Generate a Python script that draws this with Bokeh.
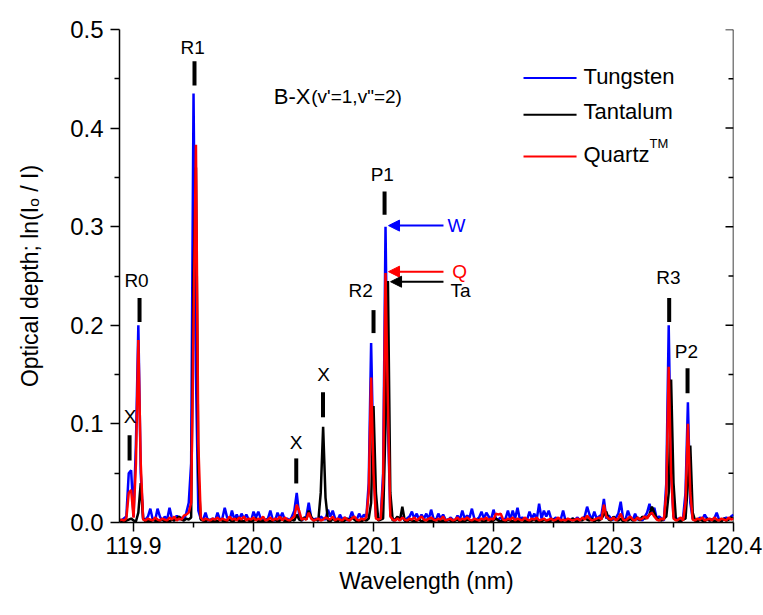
import numpy as np
from bokeh.plotting import figure
from bokeh.models import (Range1d, FixedTicker, NumeralTickFormatter,
                          Arrow, NormalHead, ColumnDataSource)
from bokeh.embed import file_html
from bokeh.resources import INLINE
from bokeh.core.properties import value

# ---------------- data ----------------
wl_start = 119.888
wl_step = 0.002
n_points = 257
wavelength = np.round(wl_start + wl_step * np.arange(n_points), 4)

tungsten = [
    .003, .002, .004, .006, .050, .053, .006, .080, .200, .050,
    .004, .003, .006, .014, .003, .002, .014, .006, .002, .006,
    .003, .015, .004, .002, .007, .003, .005, .002, .010, .020,
    .060, .435, .150, .012, .004, .003, .010, .002, .003, .004,
    .002, .010, .003, .004, .015, .005, .002, .012, .003, .008,
    .003, .009, .004, .008, .003, .002, .011, .005, .011, .004,
    .003, .002, .004, .012, .003, .002, .010, .004, .010, .003,
    .004, .002, .006, .012, .030, .008, .002, .004, .006, .020,
    .005, .003, .004, .002, .006, .004, .003, .013, .006, .012,
    .004, .002, .008, .003, .005, .002, .004, .011, .004, .003,
    .009, .004, .008, .005, .040, .182, .060, .006, .004, .005,
    .050, .300, .100, .008, .004, .002, .005, .003, .006, .002,
    .004, .006, .011, .004, .009, .003, .008, .004, .009, .003,
    .013, .004, .002, .009, .004, .008, .003, .002, .005, .003,
    .002, .007, .003, .012, .004, .007, .005, .014, .004, .003,
    .005, .011, .004, .010, .006, .003, .013, .004, .003, .005,
    .002, .004, .012, .003, .012, .004, .015, .003, .005, .004,
    .003, .011, .004, .009, .003, .019, .004, .012, .006, .012,
    .004, .003, .005, .002, .003, .012, .002, .003, .002, .004,
    .003, .005, .002, .004, .006, .016, .008, .003, .011, .004,
    .006, .008, .024, .004, .007, .004, .003, .005, .009, .021,
    .004, .003, .012, .005, .002, .009, .003, .004, .002, .006,
    .010, .019, .008, .015, .004, .006, .004, .002, .040, .200,
    .050, .006, .003, .004, .002, .005, .030, .122, .020, .004,
    .003, .002, .005, .003, .008, .004, .002, .003, .004, .010,
    .003, .002, .004, .005, .003, .006, .008,
]

tantalum = [
    .001, .002, .001, .002, .003, .004, .002, .001, .010, .040,
    .004, .001, .002, .001, .003, .002, .001, .002, .003, .001,
    .002, .001, .003, .002, .004, .006, .003, .002, .004, .003,
    .005, .250, .360, .050, .003, .002, .001, .003, .002, .001,
    .002, .001, .003, .002, .001, .002, .003, .001, .002, .004,
    .001, .002, .001, .003, .002, .001, .002, .004, .001, .002,
    .001, .003, .002, .001, .002, .003, .001, .002, .004, .001,
    .002, .001, .003, .002, .008, .003, .002, .005, .003, .012,
    .006, .002, .003, .002, .030, .097, .025, .002, .001, .004,
    .002, .001, .003, .001, .002, .004, .002, .005, .003, .001,
    .002, .001, .003, .002, .004, .020, .118, .030, .002, .003,
    .004, .100, .245, .030, .002, .003, .006, .002, .016, .002,
    .001, .003, .002, .001, .002, .003, .001, .002, .003, .001,
    .002, .001, .003, .002, .001, .002, .001, .003, .002, .001,
    .002, .003, .001, .002, .001, .003, .002, .001, .002, .001,
    .003, .002, .001, .002, .003, .001, .002, .004, .002, .001,
    .002, .001, .003, .002, .001, .002, .001, .002, .003, .001,
    .002, .001, .002, .003, .001, .002, .001, .003, .002, .001,
    .002, .003, .001, .002, .001, .002, .003, .001, .002, .004,
    .002, .001, .003, .002, .005, .003, .002, .004, .001, .003,
    .002, .004, .008, .011, .003, .002, .006, .003, .002, .004,
    .001, .003, .002, .004, .002, .003, .005, .002, .006, .004,
    .005, .008, .016, .010, .004, .003, .002, .004, .006, .030,
    .145, .040, .003, .002, .001, .003, .004, .040, .078, .010,
    .002, .001, .003, .002, .001, .004, .002, .003, .001, .002,
    .003, .001, .004, .002, .003, .005, .004,
]

quartz = [
    .002, .003, .002, .004, .030, .033, .005, .060, .185, .060,
    .003, .002, .004, .003, .002, .005, .003, .002, .004, .003,
    .002, .005, .003, .006, .002, .004, .003, .007, .008, .010,
    .020, .200, .383, .080, .005, .002, .004, .003, .002, .004,
    .003, .005, .002, .004, .003, .002, .006, .003, .004, .002,
    .005, .003, .006, .002, .004, .003, .005, .002, .004, .003,
    .006, .002, .003, .005, .002, .004, .003, .006, .002, .005,
    .003, .002, .004, .006, .018, .012, .003, .004, .003, .010,
    .004, .002, .003, .004, .002, .003, .005, .004, .003, .006,
    .002, .004, .003, .002, .005, .003, .002, .004, .006, .003,
    .002, .004, .003, .005, .030, .147, .050, .004, .003, .004,
    .040, .253, .120, .006, .003, .002, .004, .002, .005, .003,
    .002, .004, .003, .005, .002, .004, .006, .003, .002, .004,
    .005, .003, .002, .004, .003, .006, .002, .003, .004, .002,
    .003, .005, .002, .004, .003, .005, .003, .002, .004, .003,
    .002, .004, .003, .005, .002, .004, .003, .009, .008, .009,
    .003, .002, .004, .003, .005, .002, .004, .003, .002, .005,
    .003, .002, .004, .003, .005, .002, .003, .004, .002, .003,
    .004, .002, .003, .005, .002, .003, .002, .004, .003, .002,
    .003, .004, .002, .005, .003, .007, .004, .002, .003, .004,
    .005, .003, .018, .006, .004, .003, .005, .002, .004, .009,
    .003, .002, .004, .006, .003, .002, .005, .003, .004, .006,
    .004, .008, .010, .006, .003, .002, .004, .003, .030, .158,
    .050, .004, .002, .003, .005, .002, .020, .100, .030, .003,
    .002, .004, .003, .005, .002, .003, .004, .002, .005, .003,
    .002, .004, .003, .002, .005, .003, .004,
]

x_ticks = [119.9, 120.0, 120.1, 120.2, 120.3, 120.4]
x_minor = [119.95, 120.05, 120.15, 120.25, 120.35]
y_ticks = [0.0, 0.1, 0.2, 0.3, 0.4, 0.5]
y_minor = [0.05, 0.15, 0.25, 0.35, 0.45]

# line identification marks
mark_text = ["X", "R0", "R1", "X", "X", "R2", "P1", "R3", "P2"]
mark_text_x = [119.8971, 119.9025, 119.9492, 120.0354, 120.0583, 120.0892, 120.1073, 120.3458, 120.3608]
mark_text_y = [0.1077, 0.2459, 0.4817, 0.0813, 0.1504, 0.2358, 0.3526, 0.2485, 0.1738]
bar_x = [119.8967, 119.9050, 119.9508, 120.0356, 120.0579, 120.1000, 120.1092, 120.3464, 120.3617]
bar_y0 = [0.0630, 0.2033, 0.4431, 0.0396, 0.1067, 0.1921, 0.3120, 0.2033, 0.1311]
bar_y1 = [0.0884, 0.2276, 0.4678, 0.0650, 0.1321, 0.2154, 0.3357, 0.2276, 0.1565]

FONT = "Liberation Sans"
BLUE = "#0000FF"
RED = "#FF0000"
X0, X1 = 119.8883, 120.4

p = figure(width=763, height=615, output_backend="svg", toolbar_location=None,
           x_range=Range1d(X0, X1), y_range=Range1d(0.0, 0.5),
           min_border_left=119, min_border_right=30, min_border_top=29, min_border_bottom=93)
p.outline_line_color = None
p.xgrid.visible = False
p.ygrid.visible = False
p.background_fill_color = "white"
p.border_fill_color = "white"

xa = p.xaxis[0]
xa.ticker = FixedTicker(ticks=x_ticks, minor_ticks=x_minor)
xa.formatter = NumeralTickFormatter(format="0.0")
ya = p.yaxis[0]
ya.ticker = FixedTicker(ticks=y_ticks, minor_ticks=y_minor)
ya.formatter = NumeralTickFormatter(format="0.0")
for ax in (xa, ya):
    ax.axis_line_width = 1.5
    ax.axis_line_color = "black"
    ax.major_tick_line_width = 1.5
    ax.minor_tick_line_width = 1.5
    ax.major_tick_in = 0
    ax.major_tick_out = 9
    ax.minor_tick_in = 0
    ax.minor_tick_out = 5
    ax.major_label_text_font = FONT
    ax.major_label_text_color = "black"
    ax.axis_label_text_font = FONT
    ax.axis_label_text_font_size = "23px"
    ax.axis_label_text_font_style = "normal"
    ax.axis_label_text_color = "black"
xa.major_label_text_font_size = "23px"
ya.major_label_text_font_size = "24px"
xa.major_label_standoff = 5
xa.axis_label = "Wavelength (nm)"
xa.axis_label_standoff = 11
ya.major_label_standoff = 7
ya.axis_label = "Optical depth; ln(I\u2092 / I)"
ya.axis_label_standoff = 24

# right frame line with inward ticks (no labels)
p.segment(x0=[X1], y0=[0.0], x1=[X1], y1=[0.5], line_color="black", line_width=1.5)
maj_len = 8 * (X1 - X0) / 614.0
min_len = 5 * (X1 - X0) / 614.0
p.segment(x0=[X1] * len(y_ticks), y0=y_ticks, x1=[X1 - maj_len] * len(y_ticks), y1=y_ticks,
          line_color="black", line_width=1.5)
p.segment(x0=[X1] * len(y_minor), y0=y_minor, x1=[X1 - min_len] * len(y_minor), y1=y_minor,
          line_color="black", line_width=1.5)

p.line(wavelength, tungsten, line_color=BLUE, line_width=2.5)
p.line(wavelength, tantalum, line_color="black", line_width=2.5)
p.line(wavelength, quartz, line_color=RED, line_width=2.5)

# identification marks
p.segment(x0=bar_x, y0=bar_y0, x1=bar_x, y1=bar_y1, line_color="black", line_width=4)
mark_src = ColumnDataSource(dict(x=mark_text_x, y=mark_text_y, t=mark_text))
p.text(x="x", y="y", text="t", source=mark_src, text_align="center", text_baseline="middle",
       text_font=value(FONT), text_font_size="19px", text_color="black")

# band label
p.text(x=[120.0169], y=[0.4319], text=["B-X"], text_align="left", text_baseline="alphabetic",
       text_font=value(FONT), text_font_size="22px", text_color="black")
p.text(x=[120.0481], y=[0.4319], text=["(v'=1,v\"=2)"], text_align="left", text_baseline="alphabetic",
       text_font=value(FONT), text_font_size="19px", text_color="black")

# arrows for P1 peaks
arrow_y = [0.3011, 0.2544, 0.2442]
arrow_x_end = [120.1125, 120.1125, 120.1142]
arrow_colors = [BLUE, RED, "black"]
for ay, axe, col in zip(arrow_y, arrow_x_end, arrow_colors):
    p.add_layout(Arrow(x_start=120.1583, y_start=ay, x_end=axe, y_end=ay,
                       line_color=col, line_width=2,
                       end=NormalHead(size=11, fill_color=col, line_color=col)))
p.text(x=[120.1692, 120.1717, 120.1725], y=[0.3011, 0.2544, 0.2358], text=["W", "Q", "Ta"],
       text_align="center", text_baseline="middle", text_font=value(FONT), text_font_size="19px",
       text_color=[BLUE, RED, "black"])

# legend (drawn manually)
leg_names = ["Tungsten", "Tantalum", "Quartz"]
leg_colors = [BLUE, "black", RED]
leg_line_y = [0.4509, 0.4136, 0.3712]
leg_text_y = [0.4525, 0.4167, 0.3730]
p.segment(x0=[120.225] * 3, y0=leg_line_y, x1=[120.2692] * 3, y1=leg_line_y,
          line_color=leg_colors, line_width=2)
p.text(x=[120.275] * 3, y=leg_text_y, text=leg_names, text_align="left", text_baseline="middle",
       text_font=value(FONT), text_font_size="22px", text_color="black")
p.text(x=[120.3300], y=[0.3846], text=["TM"], text_align="left", text_baseline="middle",
       text_font=value(FONT), text_font_size="13px", text_color="black")

open("out.html", "w").write(file_html(p, INLINE))
